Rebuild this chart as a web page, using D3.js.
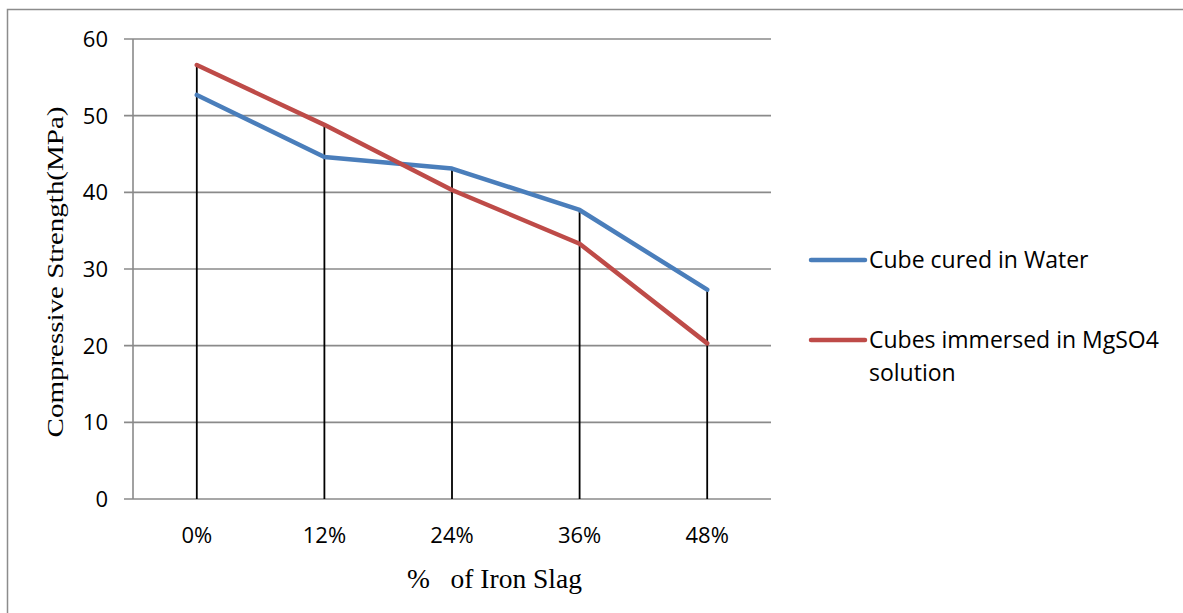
<!DOCTYPE html>
<html>
<head>
<meta charset="utf-8">
<script src="https://cdn.jsdelivr.net/npm/d3@7"></script>
<style>
  html, body { margin: 0; padding: 0; background: #ffffff; }
  svg { display: block; }
</style>
</head>
<body>
<svg id="chart" width="1183" height="613"></svg>
<script>
// Iron slag replacement levels
const categories = ["0%", "12%", "24%", "36%", "48%"];
// Compressive strength (MPa)
const waterCured = [52.7, 44.6, 43.1, 37.7, 27.3];
const mgso4Immersed = [56.6, 48.8, 40.3, 33.3, 20.3];
const yTicks = [0, 10, 20, 30, 40, 50, 60];
const seriesColors = ["#4A7EBB", "#BE4B48"];

const svg = d3.select("#chart");
const sansFont = "'Open Sans', Lato, sans-serif";
const serifFont = "'Liberation Serif', 'Times New Roman', serif";

// outer chart frame
svg.append("path")
  .attr("d", "M7.5,613 L7.5,9.5 L1183,9.5")
  .attr("fill", "none")
  .attr("stroke", "#8c8c8c")
  .attr("stroke-width", 1.5);

const plot = { left: 133, right: 771, top: 39, bottom: 499 };

const x = d3.scaleBand().domain(categories).range([plot.left, plot.right]);
const y = d3.scaleLinear().domain([0, 60]).range([plot.bottom, plot.top]);
const cx = c => x(c) + x.bandwidth() / 2;

// horizontal gridlines with small left ticks
svg.append("g").selectAll("line").data(yTicks).join("line")
  .attr("x1", plot.left - 9).attr("x2", plot.right)
  .attr("y1", d => y(d)).attr("y2", d => y(d))
  .attr("stroke", "#8a8a8a").attr("stroke-width", 1.6);

// y axis line
svg.append("line")
  .attr("x1", plot.left).attr("x2", plot.left)
  .attr("y1", plot.top).attr("y2", plot.bottom)
  .attr("stroke", "#8a8a8a").attr("stroke-width", 1.6);

// y tick labels
svg.append("g").selectAll("text").data(yTicks).join("text")
  .attr("x", 108).attr("y", d => y(d))
  .attr("dy", "0.36em")
  .attr("text-anchor", "end")
  .attr("font-family", sansFont).attr("font-size", 22)
  .attr("fill", "#000")
  .text(d => d);

// x tick labels
svg.append("g").selectAll("text").data(categories).join("text")
  .attr("x", d => cx(d)).attr("y", 535)
  .attr("dy", "0.36em")
  .attr("text-anchor", "middle")
  .attr("font-family", sansFont).attr("font-size", 22)
  .attr("fill", "#000")
  .text(d => d);

// drop lines from the higher of the two series to zero
svg.append("g").selectAll("line").data(categories).join("line")
  .attr("x1", d => cx(d)).attr("x2", d => cx(d))
  .attr("y1", (d, i) => y(Math.max(waterCured[i], mgso4Immersed[i])))
  .attr("y2", y(0))
  .attr("stroke", "#000").attr("stroke-width", 1.8);

// series lines
const line = d3.line().x((d, i) => cx(categories[i])).y(d => y(d));
[waterCured, mgso4Immersed].forEach((vals, k) => {
  svg.append("path")
    .datum(vals)
    .attr("d", line)
    .attr("fill", "none")
    .attr("stroke", seriesColors[k])
    .attr("stroke-width", 4.5)
    .attr("stroke-linejoin", "round")
    .attr("stroke-linecap", "round");
});

// axis titles
svg.append("text")
  .attr("transform", "translate(63, 272) rotate(-90) scale(1, 0.82)")
  .attr("text-anchor", "middle")
  .attr("font-family", serifFont).attr("font-size", 29)
  .attr("fill", "#000")
  .text("Compressive Strength(MPa)");

svg.append("text")
  .attr("x", 407).attr("y", 588)
  .attr("text-anchor", "start")
  .attr("font-family", serifFont).attr("font-size", 27.5)
  .attr("fill", "#000")
  .attr("xml:space", "preserve")
  .style("white-space", "pre")
  .text("%   of Iron Slag");

// legend
const legendRows = [
  { y: 260, lines: ["Cube cured in Water"] },
  { y: 340, lines: ["Cubes immersed in MgSO4", "solution"] }
];
legendRows.forEach((row, k) => {
  const g = svg.append("g");
  g.append("line")
    .attr("x1", 811).attr("x2", 865)
    .attr("y1", row.y).attr("y2", row.y)
    .attr("stroke", seriesColors[k]).attr("stroke-width", 4.5)
    .attr("stroke-linecap", "round");
  row.lines.forEach((t, j) => {
    g.append("text")
      .attr("x", 869).attr("y", row.y + j * 33)
      .attr("dy", "0.36em")
      .attr("font-family", sansFont).attr("font-size", 23)
      .attr("fill", "#000")
      .text(t);
  });
});
</script>
</body>
</html>
